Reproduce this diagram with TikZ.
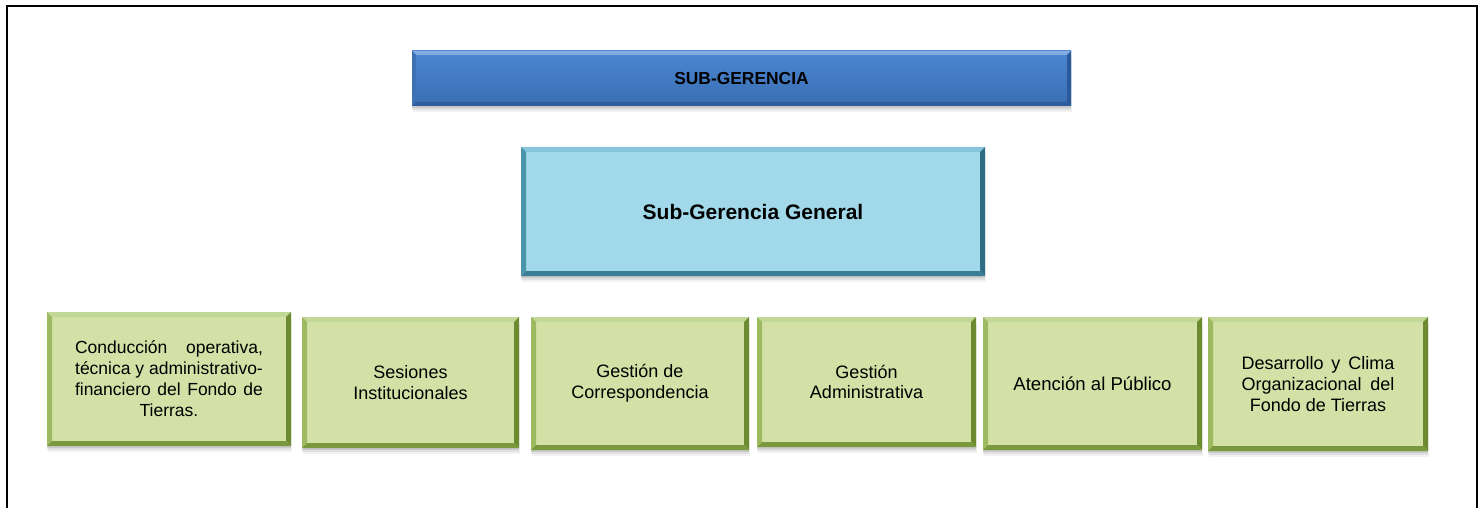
\documentclass[tikz,border=0pt]{standalone}
\usepackage{fontspec}
\setmainfont{Liberation Sans}
\usetikzlibrary{calc}
\definecolor{gface}{HTML}{D3E1A6}
\definecolor{gtop}{HTML}{C2D896}
\definecolor{gleft}{HTML}{9DBA60}
\definecolor{gright}{HTML}{6C8B31}
\definecolor{gbottom}{HTML}{7A983D}
\definecolor{lbface}{HTML}{A1D9EB}
\definecolor{lbtop}{HTML}{86C6DA}
\definecolor{lbleft}{HTML}{4A95AC}
\definecolor{lbright}{HTML}{2F6F85}
\definecolor{lbbottom}{HTML}{3A7E94}
\definecolor{dbtopface}{HTML}{4B87D1}
\definecolor{dbbotface}{HTML}{3A6DB3}
\definecolor{dbtop}{HTML}{82ACE2}
\definecolor{dbleft}{HTML}{3F70B6}
\definecolor{dbright}{HTML}{2A5A9A}
\definecolor{dbbottom}{HTML}{315C9C}
\newcommand\bevelpaint[5]{%
  \coordinate (bvNW) at (path picture bounding box.north west);
  \coordinate (bvNE) at (path picture bounding box.north east);
  \coordinate (bvSW) at (path picture bounding box.south west);
  \coordinate (bvSE) at (path picture bounding box.south east);
  \fill[#2] (bvNW) -- (bvNE) -- ([shift={(-#1,-#1)}]bvNE) -- ([shift={(#1,-#1)}]bvNW) -- cycle;
  \fill[#3] (bvNW) -- ([shift={(#1,-#1)}]bvNW) -- ([shift={(#1,#1)}]bvSW) -- (bvSW) -- cycle;
  \fill[#4] (bvNE) -- (bvSE) -- ([shift={(-#1,#1)}]bvSE) -- ([shift={(-#1,-#1)}]bvNE) -- cycle;
  \fill[#5] (bvSW) -- ([shift={(#1,#1)}]bvSW) -- ([shift={(-#1,#1)}]bvSE) -- (bvSE) -- cycle;
}
\tikzset{
  frameline/.style={line width=2.2pt, black},
  shadowed/.style={
    preaction={fill=black, opacity=0.10, transform canvas={yshift=-2pt}},
    preaction={fill=black, opacity=0.07, transform canvas={yshift=-4pt}},
    preaction={fill=black, opacity=0.05, transform canvas={xshift=1pt,yshift=-6pt}}},
  bevel/.style n args={5}{path picture={\bevelpaint{#1}{#2}{#3}{#4}{#5}}},
  boxbase/.style={inner sep=0pt, align=center, text=black, shadowed},
  greenbox/.style={boxbase, fill=gface, bevel={5pt}{gtop}{gleft}{gright}{gbottom},
    font=\fontsize{18}{20.7}\selectfont},
  lightbluebox/.style={boxbase, fill=lbface, bevel={5pt}{lbtop}{lbleft}{lbright}{lbbottom},
    font=\fontsize{21}{25}\selectfont\bfseries},
  darkbluebox/.style={boxbase, top color=dbtopface, bottom color=dbbotface,
    bevel={4pt}{dbtop}{dbleft}{dbright}{dbbottom},
    font=\fontsize{17.4}{20}\selectfont\bfseries},
}
\newcommand\orgbox[7]{%
  \node[#1, minimum width={(#5-#3)*1pt}, minimum height={(#6-#4)*1pt}]
    (#2) at ({(#3+#5)/2},{(#4+#6)/2}) {#7};}
\begin{document}
\begin{tikzpicture}[x=1pt, y=-1pt]
  \fill[white] (0,0) rectangle (1484,508);
  \useasboundingbox (0,0) rectangle (1484,508);
  \draw[frameline] (7,508) -- (7,6) -- (1477,6) -- (1477,508);

  \orgbox{darkbluebox}{sub}{412}{51}{1071}{106}{SUB-GERENCIA}
  \orgbox{lightbluebox}{subg}{521}{147}{985}{276}{Sub-Gerencia General}

  \orgbox{greenbox, font=\fontsize{17.5}{21}\selectfont}{b1}{47}{312}{291}{446}{%
    \makebox[188pt][s]{Conducción operativa,}\\
    técnica y administrativo-\\
    \makebox[188pt][s]{financiero del Fondo de}\\
    Tierras.}
  \orgbox{greenbox}{b2}{302}{317}{519}{448}{Sesiones\\Institucionales}
  \orgbox{greenbox}{b3}{531}{317}{749}{450}{Gestión de\\Correspondencia}
  \orgbox{greenbox}{b4}{757}{317}{976}{447}{Gestión\\Administrativa}
  \orgbox{greenbox, font=\fontsize{18.6}{21}\selectfont}{b5}{983}{317}{1202}{450}{Atención al Público}
  \orgbox{greenbox}{b6}{1208}{317}{1428}{451}{%
    \makebox[153pt][s]{Desarrollo y Clima}\\
    \makebox[153pt][s]{Organizacional del}\\
    Fondo de Tierras}
\end{tikzpicture}
\end{document}
